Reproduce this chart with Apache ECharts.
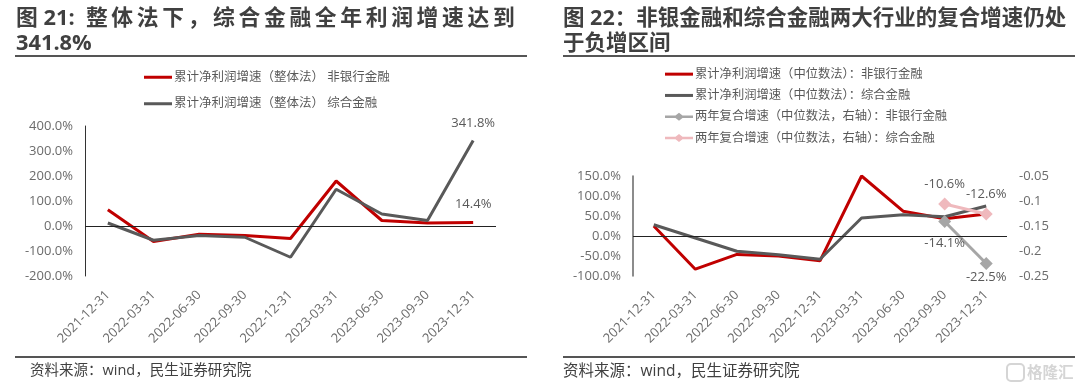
<!DOCTYPE html>
<html><head><meta charset="utf-8">
<style>html,body{margin:0;padding:0;background:#fff}#c{width:1080px;height:388px}</style>
<script src="https://cdn.jsdelivr.net/npm/echarts@6/dist/echarts.min.js"></script>
</head><body><div id="c"></div>
<script>
const dates=['2021-12-31','2022-03-31','2022-06-30','2022-09-30','2022-12-31','2023-03-31','2023-06-30','2023-09-30','2023-12-31'];
const leftNonBank=[65,-62,-33,-38,-50,180,22,12,14.4];
const leftComposite=[12,-57,-38,-45,-125,147,48,22,341.8];
const rightNonBank=[25,-83,-46,-50,-62,150,62,43,55];
const rightComposite=[28,-5,-38,-47,-58,45,53,48,75];
const cagrNonBank=[null,null,null,null,null,null,null,-0.141,-0.225];
const cagrComposite=[null,null,null,null,null,null,null,-0.106,-0.126];
const FF='"Open Sans","Noto Sans CJK SC",sans-serif';
const GR='#595959';
const spaced=s=>Array.from(s).join('\u2006');
const LINE='path://M0 0L0 0M0 10L0 10M0 3.5H28V6.5H0Z';
const DIAMOND='path://M0 0L0 0M0 10L0 10M0 3.8H10.5L14 1L17.5 3.8H28V6.2H17.5L14 9L10.5 6.2H0Z';
const ax=(i,extra)=>Object.assign({gridIndex:i,type:'value',splitLine:{show:false},axisTick:{show:false}},extra);
const tick={color:'#6b6b6b',fontSize:13,fontFamily:FF,margin:12};
const xa=i=>({gridIndex:i,type:'category',data:dates,position:'bottom',axisLine:{show:false,onZero:false},axisTick:{show:false},
 axisLabel:{rotate:45,color:'#6b6b6b',fontSize:13,fontFamily:FF,margin:17,interval:0}});
const zero={silent:true,symbol:'none',label:{show:false},lineStyle:{color:'#222',width:1,type:'solid'},data:[{yAxis:0}]};
function labelled(vals,map){return vals.map((v,i)=>map[i]?{value:v,label:Object.assign({show:true,color:'#595959',fontSize:13,fontFamily:FF},map[i])}:v);}
function line(name,x,y,data,color,w,extra){return Object.assign({name,type:'line',xAxisIndex:x,yAxisIndex:y,data,symbol:'circle',symbolSize:0,showAllSymbol:true,
 lineStyle:{color,width:w},itemStyle:{color},animation:false},extra||{});}
const dia={symbol:'diamond',symbolSize:13};
const legendBase={orient:'vertical',padding:0,itemWidth:28,itemHeight:10};
const legendText=size=>({color:GR,fontSize:size,fontFamily:FF,padding:[0,0,0,-3]});
const option={animation:false,
 textStyle:{fontFamily:FF},
 title:[
  {text:'图 21:  '+spaced('整体法下，综合金融全年利润增速达到')+'\n341.8%',left:16,top:6,padding:0,textStyle:{fontSize:21.8,fontWeight:'bold',color:'#404040',lineHeight:25,fontFamily:FF}},
  {text:'图 22：非银金融和综合金融两大行业的复合增速仍处\n于负增区间',left:563,top:6,padding:0,textStyle:{fontSize:21.5,fontWeight:'bold',color:'#404040',lineHeight:25,fontFamily:FF}}
 ],
 legend:[
  Object.assign({},legendBase,{left:144,top:71,itemGap:14,textStyle:legendText(12.5),data:['累计净利润增速（整体法） 非银行金融','累计净利润增速（整体法） 综合金融'].map(name=>({name,icon:LINE}))}),
  Object.assign({},legendBase,{left:665,top:68,itemGap:9,textStyle:legendText(12.3),data:[{name:'累计净利润增速（中位数法）：非银行金融',icon:LINE},{name:'累计净利润增速（中位数法）：综合金融',icon:LINE},{name:'两年复合增速（中位数法，右轴）：非银行金融',icon:DIAMOND},{name:'两年复合增速（中位数法，右轴）：综合金融',icon:DIAMOND}]})
 ],
 grid:[
  {left:85,top:126,width:411,height:150},
  {left:633,top:176,width:374,height:100}
 ],
 xAxis:[xa(0),xa(1)],
 yAxis:[
  ax(0,{min:-200,max:400,interval:100,axisLine:{show:true,onZero:false,lineStyle:{color:'#333',width:1}},axisLabel:Object.assign({},tick,{formatter:v=>v.toFixed(1)+'%'})}),
  ax(1,{min:-100,max:150,interval:50,axisLine:{show:true,onZero:false,lineStyle:{color:'#666',width:1.5}},axisLabel:Object.assign({},tick,{formatter:v=>v.toFixed(1)+'%'})}),
  ax(1,{position:'right',min:-0.25,max:-0.05,interval:0.05,axisLine:{show:false},axisLabel:Object.assign({},tick,{formatter:v=>String(+v.toFixed(2))})})
 ],
 series:[
  line('累计净利润增速（整体法） 非银行金融',0,0,labelled(leftNonBank,{8:{position:'top',distance:12,formatter:'14.4%'}}),'#c00000',3,{markLine:zero}),
  line('累计净利润增速（整体法） 综合金融',0,0,labelled(leftComposite,{8:{position:'top',distance:11,formatter:'341.8%'}}),'#595959',3),
  line('累计净利润增速（中位数法）：非银行金融',1,1,rightNonBank,'#c00000',3,{markLine:zero}),
  line('累计净利润增速（中位数法）：综合金融',1,1,rightComposite,'#595959',3),
  line('两年复合增速（中位数法，右轴）：非银行金融',1,2,labelled(cagrNonBank,{7:{position:'bottom',distance:9,formatter:'-14.1%'},8:{position:'bottom',distance:1,formatter:'-22.5%'}}),'#a6a6a6',3,dia),
  line('两年复合增速（中位数法，右轴）：综合金融',1,2,labelled(cagrComposite,{7:{position:'top',distance:7,formatter:'-10.6%'},8:{position:'top',distance:7,formatter:'-12.6%'}}),'#efb9bd',3,dia)
 ],
 graphic:[
  {type:'rect',shape:{x:15,y:55,width:512,height:2},style:{fill:'#555'}},
  {type:'rect',shape:{x:563,y:55,width:512,height:2},style:{fill:'#555'}},
  {type:'rect',shape:{x:15,y:356,width:512,height:2},style:{fill:'#555'}},
  {type:'rect',shape:{x:563,y:356,width:512,height:2},style:{fill:'#555'}},
  {type:'text',x:30,y:364,style:{text:'资料来源：wind，民生证券研究院',fill:'#404040',font:'14.5px "Open Sans","Noto Sans CJK SC"'}},
  {type:'text',x:563,y:364,style:{text:'资料来源：wind，民生证券研究院',fill:'#404040',font:'15.5px "Open Sans","Noto Sans CJK SC"'}},
  {type:'rect',shape:{x:1007,y:364,width:17,height:17,r:4},style:{fill:'none',stroke:'#d5d5d5',lineWidth:2}},
  {type:'text',x:1027,y:364,style:{text:'格隆汇',fill:'#d5d5d5',font:'bold 15.5px "Noto Sans CJK SC"'}}
 ]
};
echarts.init(document.getElementById('c')).setOption(option);
</script></body></html>
